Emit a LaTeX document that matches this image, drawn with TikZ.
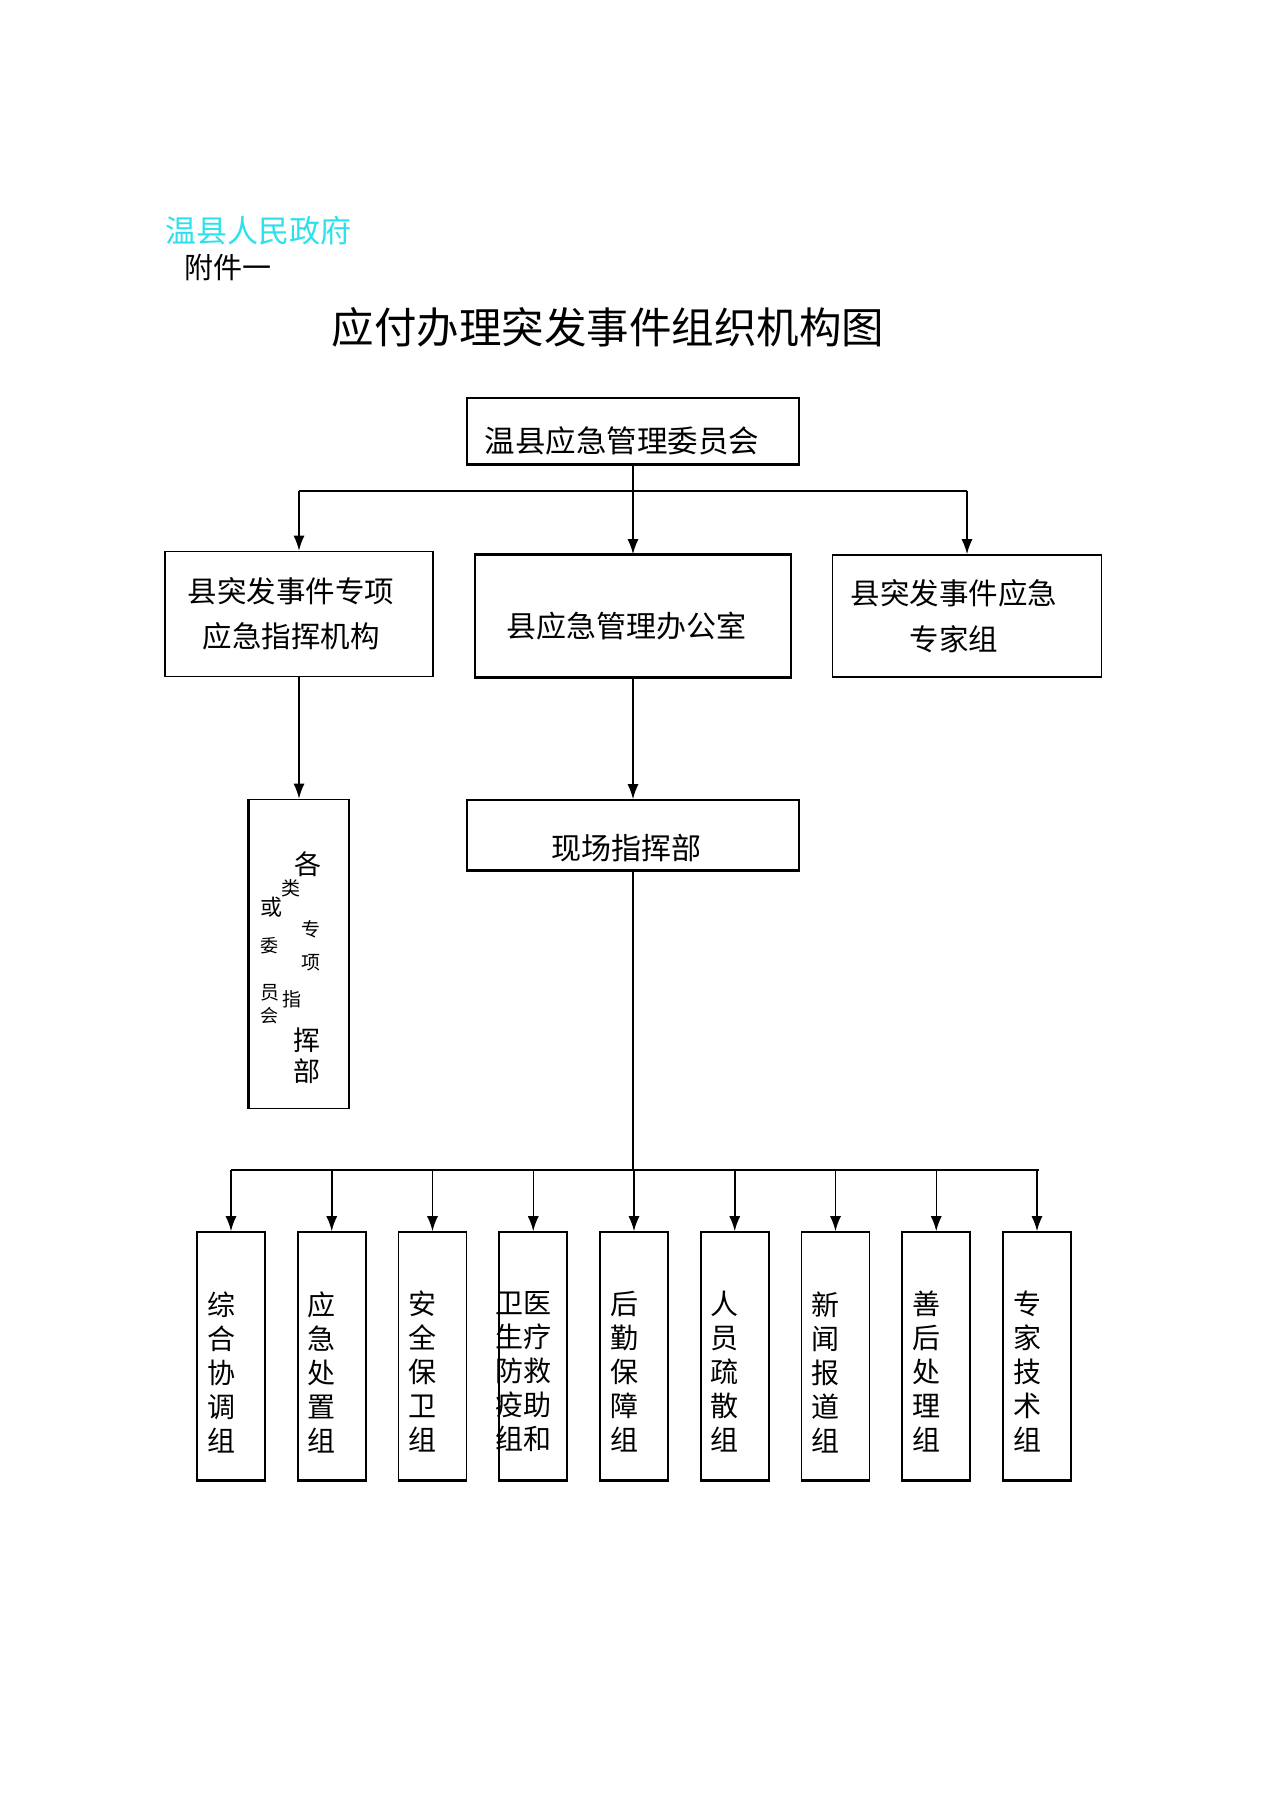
\documentclass[tikz,border=0pt]{standalone}
\usepackage{fontspec}
\setmainfont{Noto Sans CJK SC}
\usetikzlibrary{arrows.meta}
\definecolor{gov_cyan}{RGB}{45, 225, 235}
\tikzstyle{box}=[rectangle,draw=black,line width=1.6pt,inner sep=0pt,align=center]
\tikzstyle{col}=[rectangle,draw=black,line width=1.6pt,inner sep=0pt,
  minimum width=68pt,minimum height=248pt]
\tikzstyle{vtxt}=[align=center,inner sep=0pt,font=\fontsize{28}{34}\selectfont]
\tikzstyle{ch}=[inner sep=0pt]
\tikzstyle{ln}=[line width=1.5pt]
\tikzstyle{heavy}=[line width=3.2pt]
\tikzstyle{arr}=[line width=1.5pt,-{Latex[length=15pt,width=11pt]}]

\begin{document}
\begin{tikzpicture}[x=1pt,y=-1pt]
    \useasboundingbox [fill=white] (0,0) rectangle (1274,1804);
    \node [anchor=west,inner sep=0pt,text=gov_cyan,font=\fontsize{31}{36}\selectfont] (gov) at (165,231) {温县人民政府};
    \node [anchor=west,inner sep=0pt,font=\fontsize{29}{34}\selectfont] (att) at (184,267) {附件一};
    \node [inner sep=0pt,font=\fontsize{42.5}{50}\selectfont] (title) at (608,327) {应付办理突发事件组织机构图};
    \node [style=box,minimum width=332pt,minimum height=66pt,font=\fontsize{30.5}{36}\selectfont] (cmte) at (633,431) {\hspace*{-22pt}\raisebox{-21pt}[0pt][0pt]{温县应急管理委员会}};
    \node [style=box,minimum width=268pt,minimum height=125pt,font=\fontsize{29.5}{44}\selectfont] (cmd) at (299,614) {\raisebox{-8pt}{\shortstack{县突发事件专项\\[15pt]应急指挥机构}}\hspace*{16pt}};
    \node [style=box,minimum width=316pt,minimum height=122pt,font=\fontsize{30}{36}\selectfont] (office) at (633,616) {\raisebox{-21pt}[0pt][0pt]{县应急管理办公室}\hspace*{14pt}};
    \node [style=box,minimum width=269pt,minimum height=122pt,font=\fontsize{29.5}{44}\selectfont] (expert) at (967,616) {\raisebox{-6pt}{\shortstack{县突发事件应急\\[15pt]专家组}}\hspace*{26pt}};
    \node [style=box,minimum width=100pt,minimum height=309pt] (each) at (299,954) {};
    \node [style=box,minimum width=332pt,minimum height=70pt,font=\fontsize{30}{36}\selectfont] (site) at (633,835) {\raisebox{-24pt}[0pt][0pt]{现场指挥部}\hspace*{14pt}};
    \draw [style=heavy] (cmte.south west) to (cmte.south east);
    \draw [style=heavy] (office.north west) to (office.north east);
    \draw [style=heavy] (office.south west) to (office.south east);
    \draw [style=heavy] (site.south west) to (site.south east);
    \draw [style=heavy] (each.north west) to (each.south west);
    % scattered characters in the tall box
    \foreach \k/\cx/\cy/\sz/\c in {1/308/864/27/各,2/291/888/19/类,3/271/907/22/或,
        4/311/929/19/专,5/269/946/18/委,6/311/963/19/项,7/270/993/19/员,
        8/292/999/19/指,9/269/1016/18/会,10/307/1040/27/挥,11/307/1071/27/部}
      \node [style=ch,font=\fontsize{\sz}{\sz}\selectfont] (e\k) at (\cx,\cy) {\c};
    \coordinate (bus) at (633,491);
    \coordinate (busl) at (299,491);
    \coordinate (busr) at (967,491);
    \draw [style=ln] (cmte.south) to (bus);
    \draw [style=ln] (busl) to (busr);
    \draw [style=arr] (busl) to (cmd.north);
    \draw [style=arr] (bus) to (office.north);
    \draw [style=arr] (busr) to (expert.north);
    \draw [style=arr] (cmd.south) to (each.north);
    \draw [style=arr] (office.south) to (site.north);
    % working groups
    \coordinate (low) at (633,1170);
    \coordinate (lowl) at (231,1170);
    \coordinate (lowr) at (1039,1170);
    \draw [style=ln] (site.south) to (low);
    \draw [style=ln] (lowl) to (lowr);
    \foreach \i/\nm in {1/{综\\合\\协\\调\\组},2/{应\\急\\处\\置\\组},3/{安\\全\\保\\卫\\组},
        4/{卫医\\生疗\\防救\\疫助\\组和},5/{后\\勤\\保\\障\\组},6/{人\\员\\疏\\散\\组},
        7/{新\\闻\\报\\道\\组},8/{善\\后\\处\\理\\组},9/{专\\家\\技\\术\\组}} {
      \pgfmathsetmacro\gx{231+100.75*(\i-1)}
      \node [style=col] (g\i) at (\gx,1356) {};
      \draw [style=heavy] (g\i.south west) to (g\i.south east);
      \node [style=vtxt] (t\i) at (\gx-10,1372) {\nm};
      \coordinate (b\i) at (\gx,1170);
      \draw [style=arr] (b\i) to (g\i.north);
    }
\end{tikzpicture}
\end{document}
